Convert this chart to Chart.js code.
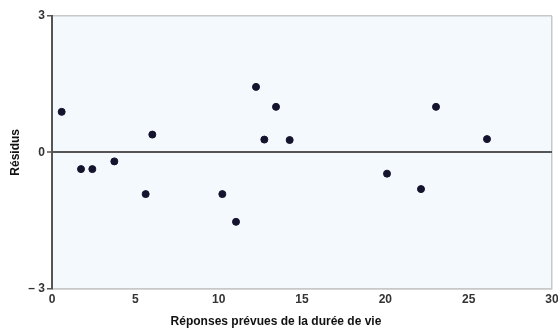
<!DOCTYPE html>
<html>
<head>
<meta charset="utf-8">
<script src="https://cdn.jsdelivr.net/npm/chart.js@4"></script>
<style>
  html, body { margin: 0; padding: 0; background: #ffffff; }
  #wrap { width: 558px; height: 331px; }
</style>
</head>
<body>
<div id="wrap"><canvas id="residChart" width="558" height="331"></canvas></div>
<script>
// predicted lifetime vs residual
const predicted = [0.58, 1.74, 2.42, 3.74, 5.62, 6.02, 10.22, 11.04, 12.24, 12.74, 13.44, 14.26, 20.1, 22.14, 23.04, 26.1];
const residuals = [0.89, -0.37, -0.37, -0.2, -0.92, 0.39, -0.92, -1.53, 1.44, 0.28, 1.0, 0.27, -0.47, -0.81, 1.0, 0.29];
const xTicks = [0, 5, 10, 15, 20, 25, 30];
const yTicks = [-3, 0, 3];

const points = predicted.map((x, i) => ({ x: x, y: residuals[i] }));

// light blue panel behind the plot
const panelBg = {
    id: 'panelBg',
    beforeDraw(chart) {
        const a = chart.chartArea;
        const ctx = chart.ctx;
        ctx.save();
        ctx.fillStyle = '#f3f9fc';
        ctx.fillRect(a.left, a.top, a.right - a.left, a.bottom - a.top);
        ctx.restore();
    }
};

const family = 'Liberation Sans, Arial, sans-serif';
const tickFont = { family: family, size: 12, weight: 'bold' };
const titleFont = { family: family, size: 12, weight: 'bold' };

const residChart = new Chart(document.getElementById('residChart'), {
    type: 'scatter',
    data: {
        datasets: [{
            data: points,
            backgroundColor: '#14142e',
            borderColor: '#14142e',
            pointRadius: 3.5,
            pointHoverRadius: 3.5
        }]
    },
    options: {
        responsive: false,
        animation: false,
        layout: { padding: { top: 16, right: 6, left: 0, bottom: 0 } },
        plugins: {
            legend: { display: false },
            tooltip: { enabled: false },
            // x axis caption, centred on the whole canvas
            title: {
                display: true,
                position: 'bottom',
                text: 'Réponses prévues de la durée de vie',
                color: '#111111',
                font: titleFont,
                padding: { top: 4, bottom: 2 }
            }
        },
        scales: {
            x: {
                type: 'linear',
                min: 0,
                max: 30,
                afterBuildTicks: (s) => { s.ticks = xTicks.map(v => ({ value: v })); },
                afterFit: (s) => { s.height = 22; s.paddingRight = 0; s.paddingLeft = 0; },
                ticks: { color: '#333333', font: tickFont, padding: 4, maxRotation: 0 },
                grid: {
                    drawTicks: false,
                    color: (c) => c.tick && c.tick.value === 30 ? '#c8c8c8' : 'rgba(0,0,0,0)',
                    lineWidth: 1.5
                },
                border: { display: true, color: '#c8c8c8', width: 1.5 }
            },
            y: {
                type: 'linear',
                min: -3,
                max: 3,
                afterBuildTicks: (s) => { s.ticks = yTicks.map(v => ({ value: v })); },
                afterFit: (s) => { s.width = 52; },
                ticks: {
                    color: '#333333',
                    font: tickFont,
                    padding: 2,
                    callback: (v) => v < 0 ? '\u2013 ' + Math.abs(v) : String(v)
                },
                grid: {
                    tickLength: 5,
                    tickColor: '#555555',
                    tickWidth: 1.5,
                    color: (c) => {
                        if (!c.tick) return 'rgba(0,0,0,0)';
                        if (c.tick.value === 0) return '#555555';
                        return '#c8c8c8';
                    },
                    lineWidth: (c) => c.tick && c.tick.value === 0 ? 2 : 1.5
                },
                border: { display: true, color: '#555555', width: 2 },
                title: {
                    display: true,
                    text: 'Résidus',
                    color: '#111111',
                    font: titleFont,
                    padding: { top: 8, bottom: 4 }
                }
            }
        }
    },
    plugins: [panelBg]
});
</script>
</body>
</html>
